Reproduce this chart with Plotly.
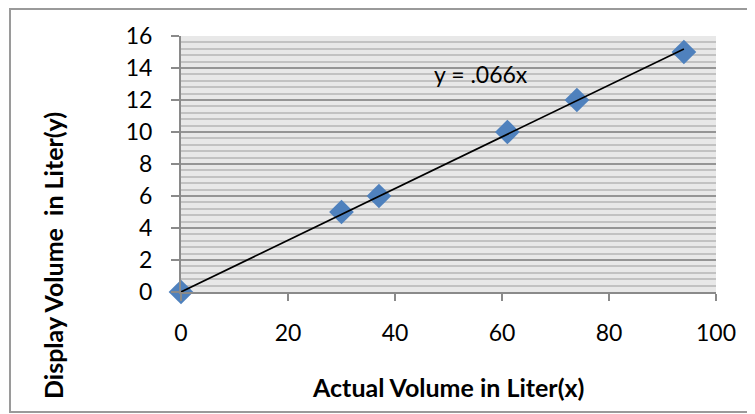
import plotly.graph_objects as go

# Data
actual_volume = [0, 30, 37, 61, 74, 94]
display_volume = [0, 5, 6, 10, 12, 15]
trend_x = [0, 94]
trend_y = [0, 15.19]
trend_label = "y = .066x"
x_title = "Actual Volume in Liter(x)"
y_title = "Display Volume \u00a0in Liter(y)"

# The page body adds an 8px margin, so the figure is drawn 8px smaller
OFF = 8
W, H = 755 - OFF, 414 - OFF
L, R, T, B = 181 - OFF, 39, 36 - OFF, 122
pw, ph = W - L - R, H - T - B

def px(x):
    # page pixel -> paper coordinate
    return (x - OFF - L) / pw

def py(y):
    return (H - B - (y - OFF)) / ph

FONT = "Lato"

fig = go.Figure()
fig.add_trace(go.Scatter(
    x=actual_volume, y=display_volume, mode="markers",
    marker=dict(symbol="diamond", size=19, color="#4F81BD", line=dict(width=0)),
    cliponaxis=False, showlegend=False, hoverinfo="x+y"))
fig.add_trace(go.Scatter(
    x=trend_x, y=trend_y, mode="lines",
    line=dict(color="black", width=1.6),
    cliponaxis=False, showlegend=False))

fig.update_layout(
    width=W, height=H,
    margin=dict(l=L, r=R, t=T, b=B),
    paper_bgcolor="white",
    plot_bgcolor="#e8e8e8",
    font=dict(family=FONT, size=23, color="black"),
    showlegend=False,
    xaxis=dict(
        range=[0, 100], tickvals=[0, 20, 40, 60, 80, 100],
        showgrid=False, zeroline=False,
        showline=True, linecolor="#8a8a8a", linewidth=2,
        ticks="outside", ticklen=7, tickcolor="#8a8a8a", tickwidth=2,
        ticklabelstandoff=12,
        tickfont=dict(family=FONT, size=23, color="black"),
    ),
    yaxis=dict(
        range=[0, 16], dtick=2, tick0=0,
        showgrid=True, gridcolor="#959595", gridwidth=2,
        zeroline=False,
        showline=True, linecolor="#8a8a8a", linewidth=2,
        ticks="outside", ticklen=8, tickcolor="#8a8a8a", tickwidth=2,
        ticklabelstandoff=14,
        tickfont=dict(family=FONT, size=23, color="black"),
        minor=dict(dtick=0.4, tick0=0, showgrid=True, gridcolor="#c2c2c2", gridwidth=2, ticks=""),
    ),
    shapes=[dict(type="rect", xref="paper", yref="paper",
                 x0=px(10), x1=px(780), y0=py(412), y1=py(9),
                 line=dict(color="#9a9a9a", width=2), fillcolor="rgba(0,0,0,0)", layer="below")],
    annotations=[
        dict(x=56, y=13.6, xref="x", yref="y", text=trend_label, showarrow=False,
             xanchor="center", yanchor="middle",
             font=dict(family=FONT, size=23, color="black")),
        dict(x=px(448), y=py(387), xref="paper", yref="paper", text="<b>" + x_title + "</b>",
             xanchor="center", yanchor="middle",
             showarrow=False, font=dict(family=FONT, size=25, color="black")),
        dict(x=px(53), y=py(256), xref="paper", yref="paper", text="<b>" + y_title + "</b>",
             xanchor="center", yanchor="middle",
             textangle=-90, showarrow=False, font=dict(family=FONT, size=25, color="black")),
    ],
)

fig.write_html("out.html")
